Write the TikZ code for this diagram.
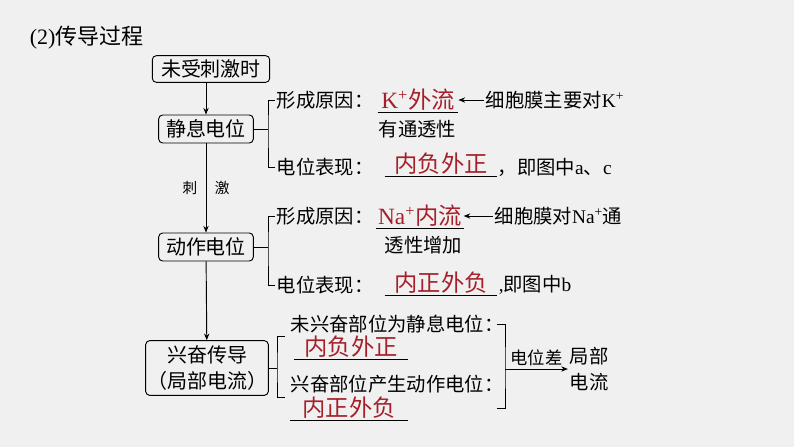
\documentclass[tikz,border=0pt]{standalone}
\usepackage{fontspec}
\setmainfont{Liberation Serif}
\newfontfamily\cjk{Noto Sans CJK SC}
\usetikzlibrary{arrows.meta}
\definecolor{ansred}{RGB}{165,32,42}
\definecolor{bggray}{RGB}{240,240,240}

\begin{document}
\begin{tikzpicture}[x=0.75pt, y=-0.75pt, line width=0.7pt,
	font=\cjk\fontsize{14.5}{20}\selectfont,
	arr/.style={-{Stealth[length=5pt,width=4pt]}},
	box/.style={draw, rounded corners=3pt, inner sep=1pt, font=\cjk\fontsize{15}{20}\selectfont},
	txt/.style={anchor=west, inner sep=1pt},
	ans/.style={text=ansred, font=\cjk\fontsize{17.5}{20}\selectfont, inner sep=1pt}]
	\fill[bggray] (0,0) rectangle (794,447);
	\useasboundingbox (0,0) rectangle (794,447);

	\node[txt, font=\cjk\fontsize{16.5}{20}\selectfont] (title) at (28,38) {{\rmfamily (2)}传导过程};

	\node[box, minimum width=88pt, minimum height=20pt] (start) at (211,69) {未受刺激时};
	\node[box, minimum width=71pt, minimum height=21pt] (rest) at (206,129) {静息电位};
	\node[box, minimum width=71pt, minimum height=21pt] (action) at (206,247) {动作电位};
	\node[box, minimum width=82pt, minimum height=41pt, align=center] (conduct) at (207,368) {兴奋传导\\（局部电流）};

	\draw[arr] (rest.north |- start.south) -- (rest.north);
	\draw[arr] (rest) -- node[font=\cjk\fontsize{11}{13}\selectfont] {刺\hspace{1.2em}激} (action);
	\draw[arr] (action) -- (conduct);

	\node[txt] (rform) at (275,100) {形成原因：};
	\node[ans, minimum width=60pt] (kout) at (418,100) {{\rmfamily K\textsuperscript{+}}外流};
	\node[txt] (kwhy) at (484,100) {细胞膜主要对{\rmfamily K\textsuperscript{+}}};
	\node[txt] (kwhy2) at (377,129) {有通透性};
	\node[txt] (rshow) at (275,167) {电位表现：};
	\node[ans, minimum width=84pt] (rans) at (441,164) {内负外正};
	\node[txt] (rnote) at (496,167) {，即图中{\rmfamily a}、{\rmfamily c}};
	\coordinate (rb) at (268,129);
	\draw (rest.east) -- (rb);
	\draw (rform.west) -| (rb) |- (rshow.west);
	\draw (kout.south west) -- (kout.south east);
	\draw (rans.south west) -- (rans.south east);
	\draw[arr] (kwhy.west) -- (kout.east);

	\node[txt] (aform) at (275,216) {形成原因：};
	\node[ans, minimum width=63pt] (nain) at (420,216) {{\rmfamily Na\textsuperscript{+}}内流};
	\node[txt] (nawhy) at (493,216) {细胞膜对{\rmfamily Na\textsuperscript{+}}通};
	\node[txt] (nawhy2) at (383,245) {透性增加};
	\node[txt] (ashow) at (275,285) {电位表现：};
	\node[ans, minimum width=84pt] (aans) at (441,283) {内正外负};
	\node[txt] (anote) at (497,285) {{\rmfamily ,}即图中{\rmfamily b}};
	\coordinate (ab) at (268,247);
	\draw (action.east) -- (ab);
	\draw (aform.west) -| (ab) |- (ashow.west);
	\draw (nain.south west) -- (nain.south east);
	\draw (aans.south west) -- (aans.south east);
	\draw[arr] (nawhy.west) -- (nain.east);

	\node[txt] (unex) at (289,324) {未兴奋部位为静息电位：};
	\node[ans, minimum width=85pt] (unans) at (351,347) {内负外正};
	\node[txt] (ex) at (289,384) {兴奋部位产生动作电位：};
	\node[ans, minimum width=88pt] (exans) at (349,408) {内正外负};
	\draw (unans.south west) -- (unans.south east);
	\draw (exans.south west) -- (exans.south east);
	\coordinate (cb) at (277,368);
	\coordinate (ctop) at (285,336);
	\coordinate (cbot) at (285,397);
	\draw (conduct.east) -- (cb);
	\draw (ctop) -| (cb) |- (cbot);

	\node[align=center, inner sep=1pt] (local) at (589,369) {局部\\电流};
	\coordinate (pt) at (497,324);
	\coordinate (pb) at (497,408);
	\coordinate (pm) at (505,369);
	\draw (pt) -| (pm) |- (pb);
	\draw[arr] (pm) -- node[above, font=\cjk\fontsize{13}{15}\selectfont, inner sep=2pt] {电位差} (local.west);
\end{tikzpicture}
\end{document}
